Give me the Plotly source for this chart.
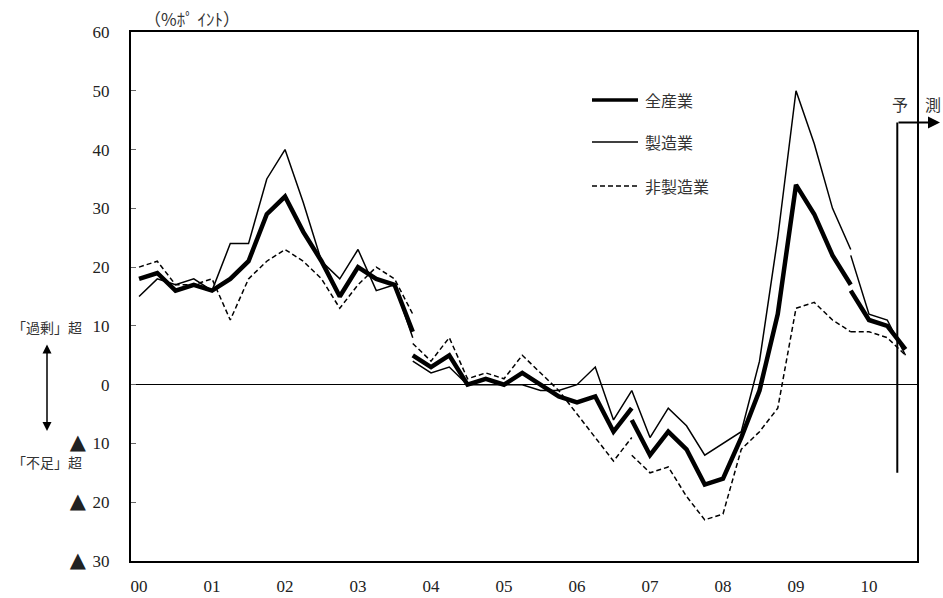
import plotly.graph_objects as go

# Quarterly index: 0 = 2000Q1 ... 42 = 2010Q3 (forecast)
year_tick_pos = [0, 4, 8, 12, 16, 20, 24, 28, 32, 36, 40]
year_tick_labels = ["00", "01", "02", "03", "04", "05", "06", "07", "08", "09", "10"]

y_tick_vals = [60, 50, 40, 30, 20, 10, 0, -10, -20, -30]
y_tick_labels = ["60", "50", "40", "30", "20", "10", "0", "10", "20", "30"]

# Segments (survey base revisions): start index of each
seg_start = [0, 15, 27, 39]

# 全産業 (all industries)
all_a = [18, 19, 16, 17, 16, 18, 21, 29, 32, 26, 21, 15, 20, 18, 17, 9]
all_b = [5, 3, 5, 0, 1, 0, 2, 0, -2, -3, -2, -8, -4]
all_c = [-6, -12, -8, -11, -17, -16, -9, -1, 12, 34, 29, 22, 17]
all_d = [16, 11, 10, 6]

# 製造業 (manufacturing)
mfg_a = [15, 18, 17, 18, 16, 24, 24, 35, 40, 31, 21, 18, 23, 16, 17, 8]
mfg_b = [4, 2, 3, 0, 0, 0, 0, -1, -1, 0, 3, -6, -1]
mfg_c = [-1, -9, -4, -7, -12, -10, -8, 4, 25, 50, 41, 30, 23]
mfg_d = [22, 12, 11, 5]

# 非製造業 (non-manufacturing)
non_a = [20, 21, 17, 17, 18, 11, 18, 21, 23, 21, 18, 13, 17, 20, 18, 12]
non_b = [7, 4, 8, 1, 2, 1, 5, 2, -1, -5, -9, -13, -9]
non_c = [-12, -15, -14, -19, -23, -22, -11, -8, -4, 13, 14, 11, 9]
non_d = [9, 9, 8, 5]

series_names = ["全産業", "製造業", "非製造業"]


def join_segments(segs):
    xs, ys = [], []
    for k, (s, vals) in enumerate(zip(seg_start, segs)):
        if k > 0:
            xs.append(None)
            ys.append(None)
        xs.extend(range(s, s + len(vals)))
        ys.extend(vals)
    return xs, ys


styles = [
    dict(color="black", width=4.5),
    dict(color="black", width=1.5),
    dict(color="black", width=1.5, dash="5px,3px"),
]

fig = go.Figure()
for name, segs, st in zip(series_names,
                          [[all_a, all_b, all_c, all_d],
                           [mfg_a, mfg_b, mfg_c, mfg_d],
                           [non_a, non_b, non_c, non_d]],
                          styles):
    xs, ys = join_segments(segs)
    fig.add_trace(go.Scatter(x=xs, y=ys, mode="lines", name=name,
                             line=st, connectgaps=False, showlegend=False,
                             hoverinfo="skip"))

num_font = dict(family="Liberation Serif, Noto Serif, serif", size=17, color="#222")
jp_font = dict(family="Noto Sans CJK JP, sans-serif", size=16, color="#333")
jp_small = dict(family="Noto Sans CJK JP, sans-serif", size=14, color="#333")

L, R, T, B = 131, 26, 32, 37
W, H = 943, 598
pw = W - L - R
ph = H - T - B


def px_x(px):
    return (px - L) / pw


def px_y(py):
    return 1 - (py - T) / ph


# y tick text with the Japanese negative mark
y_tick_text = [
    (f"<span style='font-size:21px;font-family:DejaVu Sans'>▲\u00a0</span>{t}" if v < 0 else t)
    for v, t in zip(y_tick_vals, y_tick_labels)
]

shapes = []
annotations = []


def label(x, y, text, font):
    annotations.append(dict(xref="paper", yref="paper", x=px_x(x), y=px_y(y),
                            text=text, showarrow=False, xanchor="center",
                            yanchor="middle", font=font))


# legend (custom)
leg_y = [100, 142, 186]
for name, st, yy in zip(series_names, styles, leg_y):
    shapes.append(dict(type="line", xref="paper", yref="paper",
                       x0=px_x(592), x1=px_x(638), y0=px_y(yy), y1=px_y(yy),
                       line=dict(color="black", width=3.5 if st["width"] > 2 else st["width"],
                                 dash=st.get("dash", "solid"))))
    annotations.append(dict(xref="paper", yref="paper", x=px_x(643), y=px_y(yy),
                            text=name, showarrow=False, xanchor="left", yanchor="middle",
                            font=jp_font))

# forecast marker
fx = 41.55
shapes.append(dict(type="line", xref="x", yref="y", x0=fx, x1=fx, y0=44.6, y1=-15,
                   line=dict(color="black", width=2)))
annotations.append(dict(xref="paper", yref="y", x=px_x(940), y=44.6, ax=-43, ay=0,
                        axref="pixel", ayref="pixel", text="", showarrow=True,
                        xanchor="center", yanchor="middle",
                        arrowhead=2, arrowsize=1.2, arrowwidth=2, arrowcolor="black"))
label(900, 104, "予", jp_font)
label(933, 104, "測", jp_font)

# unit label
label(192, 19, "（%ﾎﾟ ｲﾝﾄ）", dict(family="Noto Sans CJK JP, sans-serif", size=17, color="#333"))

# left side labels
label(47, 327, "「過剰」超", jp_small)
label(47, 462, "「不足」超", jp_small)
annotations.append(dict(xref="paper", yref="paper", x=px_x(47), y=px_y(431),
                        ax=0, ay=-88, axref="pixel", ayref="pixel", text="", showarrow=True,
                        arrowhead=2, startarrowhead=2, arrowside="end+start",
                        arrowsize=1.2, arrowwidth=1.5, arrowcolor="black"))

fig.update_layout(
    width=W, height=H,
    margin=dict(l=L, r=R, t=T, b=B, autoexpand=False),
    plot_bgcolor="white", paper_bgcolor="white",
    shapes=shapes, annotations=annotations,
    xaxis=dict(range=[-0.44, 42.63], tickvals=year_tick_pos, ticktext=year_tick_labels,
               showgrid=False, zeroline=False, showline=True, mirror=True,
               linecolor="black", linewidth=2, ticks="", tickfont=num_font,
               ticklabelstandoff=9, automargin=False),
    yaxis=dict(range=[-30, 60], tickvals=y_tick_vals, ticktext=y_tick_text,
               showgrid=False, zeroline=True, zerolinecolor="black", zerolinewidth=1,
               showline=True, mirror=True, linecolor="black", linewidth=2,
               ticks="inside", ticklen=5, tickcolor="#666", tickfont=num_font,
               ticklabelstandoff=16, automargin=False),
    showlegend=False,
    hovermode=False,
)

fig.write_html("out.html", config={"displayModeBar": False},
               post_script="document.body.style.margin='0';")
